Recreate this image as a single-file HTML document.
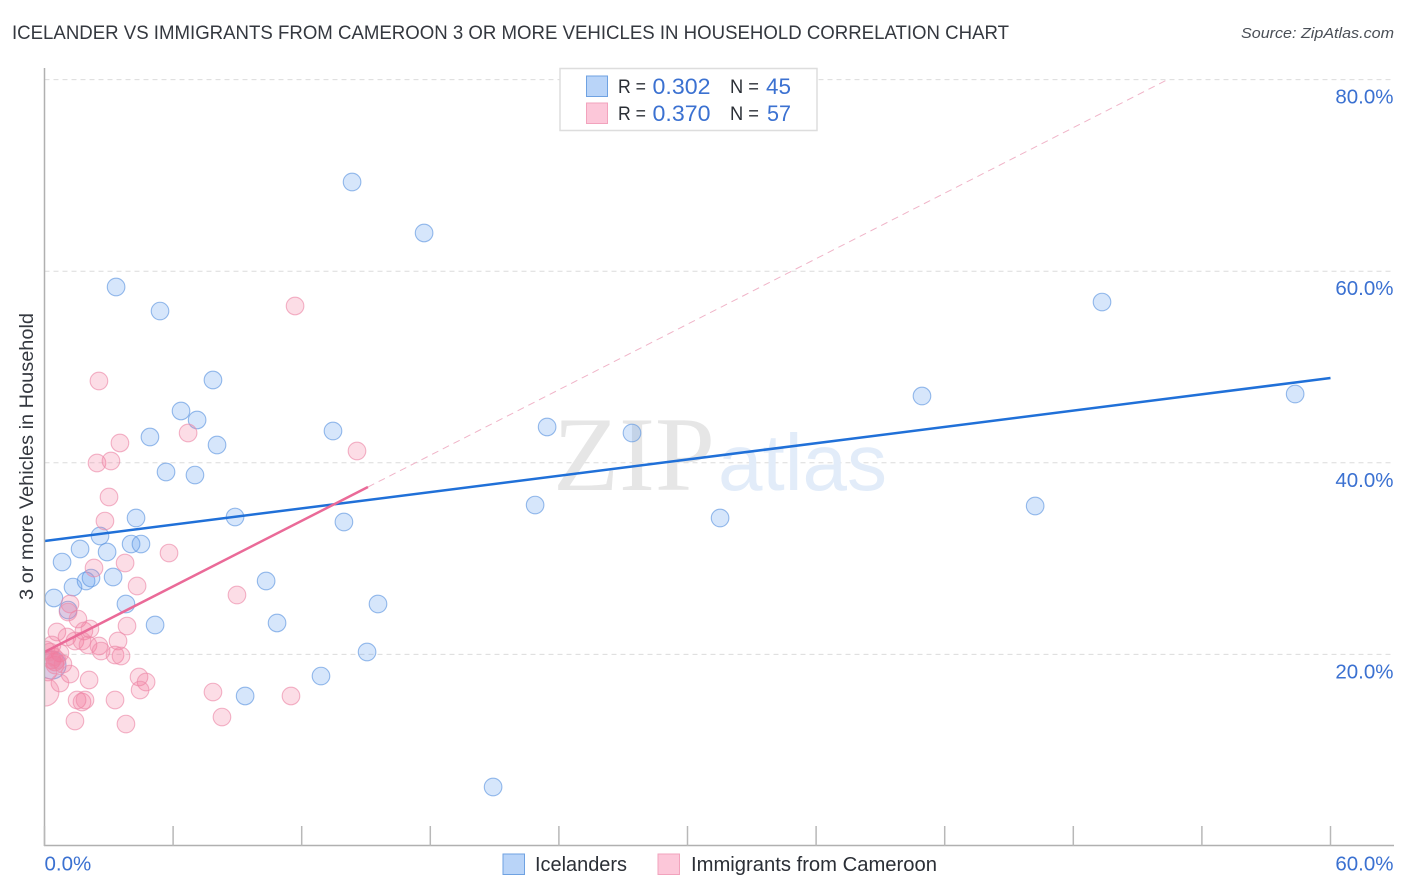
<!DOCTYPE html>
<html lang="en">
<head>
<meta charset="utf-8">
<title>Icelander vs Immigrants from Cameroon chart</title>
<style>
html,body{margin:0;padding:0;background:#fff;}
svg{display:block;font-family:"Liberation Sans",sans-serif;}
</style>
</head>
<body>
<svg id="chart" xmlns="http://www.w3.org/2000/svg" width="1406" height="892" viewBox="0 0 1406 892">
  <defs>
    <clipPath id="plot-clip"><rect x="44.5" y="60" width="1350" height="786"/></clipPath>
  </defs>
  <rect x="0" y="0" width="1406" height="892" fill="#ffffff"/>
  <text x="12" y="39" font-size="19.5" fill="#34383f" textLength="997" lengthAdjust="spacingAndGlyphs">ICELANDER VS IMMIGRANTS FROM CAMEROON 3 OR MORE VEHICLES IN HOUSEHOLD CORRELATION CHART</text>
  <text x="1241" y="38" font-size="15" font-style="italic" fill="#4a4f57" textLength="153" lengthAdjust="spacingAndGlyphs">Source: ZipAtlas.com</text>

  <g id="grid"></g>

  <g>
    <text x="553" y="490" font-family="'Liberation Serif',serif" font-size="106" fill="#e6e6e6" textLength="162" lengthAdjust="spacingAndGlyphs">ZIP</text>
    <text x="718" y="490" font-size="80" fill="#e2ecf9" textLength="169" lengthAdjust="spacingAndGlyphs">atlas</text>
  </g>

  <g id="points" clip-path="url(#plot-clip)"></g>
  <g id="trends" clip-path="url(#plot-clip)"></g>

  <g id="axes">
    <line x1="44.5" y1="68" x2="44.5" y2="846" stroke="#b0b0b0" stroke-width="1.5"/>
    <line x1="44" y1="845.5" x2="1394" y2="845.5" stroke="#b0b0b0" stroke-width="1.5"/>
  </g>

  <text transform="translate(33,456.5) rotate(-90)" text-anchor="middle" font-size="19.5" fill="#34383f" textLength="287" lengthAdjust="spacingAndGlyphs">3 or more Vehicles in Household</text>

  <g>
    <rect x="560" y="68.5" width="257" height="62" fill="#ffffff" stroke="#dddddd" stroke-width="1.5"/>
    <rect x="586.5" y="76" width="21" height="20.5" fill="#b9d4f8" stroke="#6fa2e2" stroke-width="1"/>
    <rect x="586.5" y="103" width="21" height="20.5" fill="#fcc7d9" stroke="#f2a3bd" stroke-width="1"/>
    <text x="618" y="93" font-size="19" fill="#2b2f36" textLength="28" lengthAdjust="spacingAndGlyphs">R =</text>
    <text x="652.5" y="94" font-size="22" fill="#3b71d1" textLength="58" lengthAdjust="spacingAndGlyphs">0.302</text>
    <text x="730" y="93" font-size="19" fill="#2b2f36" textLength="29" lengthAdjust="spacingAndGlyphs">N =</text>
    <text x="766" y="94" font-size="22" fill="#3b71d1" textLength="25" lengthAdjust="spacingAndGlyphs">45</text>
    <text x="618" y="120" font-size="19" fill="#2b2f36" textLength="28" lengthAdjust="spacingAndGlyphs">R =</text>
    <text x="652.5" y="121" font-size="22" fill="#3b71d1" textLength="58" lengthAdjust="spacingAndGlyphs">0.370</text>
    <text x="730" y="120" font-size="19" fill="#2b2f36" textLength="29" lengthAdjust="spacingAndGlyphs">N =</text>
    <text x="767" y="121" font-size="22" fill="#3b71d1" textLength="24" lengthAdjust="spacingAndGlyphs">57</text>
  </g>

  <g>
    <g>
      <rect x="503" y="854" width="21.5" height="20.5" fill="#b9d4f8" stroke="#6fa2e2" stroke-width="1"/>
      <text x="535" y="871" font-size="20" fill="#2b2f36" textLength="92" lengthAdjust="spacingAndGlyphs">Icelanders</text>
    </g>
    <g>
      <rect x="658" y="854" width="21.5" height="20.5" fill="#fcc7d9" stroke="#f2a3bd" stroke-width="1"/>
      <text x="691" y="871" font-size="20" fill="#2b2f36" textLength="246" lengthAdjust="spacingAndGlyphs">Immigrants from Cameroon</text>
    </g>
  </g>
</svg>
<script>
const yTickValues = [20, 40, 60, 80];
const yTickLabels = ["20.0%", "40.0%", "60.0%", "80.0%"];
const xTickValues = [0, 6, 12, 18, 24, 30, 36, 42, 48, 54, 60];
const xEndValues = [0, 60];
const xEndLabels = ["0.0%", "60.0%"];

const icelanderX = [14.35,17.71,3.34,5.39,49.34,7.86,40.94,58.35,6.37,7.12,4.92,8.05,23.45,27.41,5.67,7.02,22.89,46.22,31.52,4.27,8.89,13.46,13.97,2.59,0.82,1.66,2.92,4.04,4.50,1.33,1.94,2.17,3.20,10.34,0.44,3.80,15.56,1.10,5.16,10.85,15.05,12.90,9.36,20.93,0.35];
const icelanderY = [69.31,63.99,58.35,55.84,56.78,48.64,46.97,47.18,45.41,44.47,42.69,41.86,43.74,43.11,39.04,38.72,35.59,35.49,34.24,34.24,34.34,43.32,33.82,32.36,29.64,31.00,30.69,31.52,31.52,27.03,27.66,27.97,28.08,27.66,25.89,25.26,25.26,24.63,23.07,23.28,20.25,17.74,15.66,6.16,18.89];
const cameroonX = [11.69,2.54,6.70,3.52,14.58,2.45,3.10,3.01,2.82,5.81,3.76,2.31,4.32,8.98,1.19,1.10,1.56,3.85,1.84,2.12,0.58,1.05,1.42,1.75,2.03,2.54,2.64,3.43,3.29,3.57,0.35,0.72,0.07,0.35,0.49,0.49,0.86,0.16,1.19,2.08,0.72,4.41,4.74,4.46,1.52,1.75,1.89,3.29,7.86,11.50,8.28,1.42,3.80,0.44,0.58,0.26,0.02];
const cameroonY = [56.37,48.54,43.11,42.07,41.23,39.98,40.19,36.43,33.92,30.58,29.54,29.02,27.14,26.20,25.26,24.42,23.69,22.96,22.44,22.65,22.34,21.82,21.40,21.40,20.98,20.88,20.35,21.40,19.94,19.83,20.98,20.15,20.46,19.41,19.21,18.89,19.00,18.16,17.95,17.33,17.01,17.64,17.12,16.28,15.24,15.03,15.24,15.24,16.07,15.66,13.46,13.05,12.73,19.73,19.41,20.25,16.07];

const icelanderTrendX = [0, 60];
const icelanderTrendY = [31.84, 48.85];
const cameroonTrendX = [0, 15.09];
const cameroonTrendY = [20.25, 37.47];
const cameroonExtendX = [15.09, 52.4];
const cameroonExtendY = [37.47, 80];

const SVG_NS = "http://www.w3.org/2000/svg";
function xScale(v) { return 44.5 + v * (1286 / 60); }
function yScale(v) { return 846 - v * 9.58; }
function make(tag, attrs, parent) {
  const el = document.createElementNS(SVG_NS, tag);
  for (const k in attrs) el.setAttribute(k, attrs[k]);
  parent.appendChild(el);
  return el;
}

const grid = document.getElementById("grid");
const axes = document.getElementById("axes");
const points = document.getElementById("points");
const trends = document.getElementById("trends");

yTickValues.forEach(function (v, i) {
  const line = make("line", {x1: 44.5, x2: 1394, y1: yScale(v), y2: yScale(v), stroke: "#dcdcdc", "stroke-width": 1, "stroke-dasharray": "5 4"}, grid);
  
  
  const label = make("text", {x: 1393.5, y: yScale(v) + 24, "text-anchor": "end", "font-size": 20.5, fill: "#3b71d1"}, axes);
  label.textContent = yTickLabels[i];
  
  
});

xTickValues.forEach(function (v) {
  const tick = make("line", {x1: xScale(v), x2: xScale(v), y1: 826, y2: 846, stroke: "#b8b8b8", "stroke-width": 1.5}, axes);
  
  
});

xEndValues.forEach(function (v, i) {
  const label = make("text", {x: i === 0 ? xScale(v) : 1393.5, y: 870.5, "text-anchor": i === 0 ? "start" : "end", "font-size": 20.5, fill: "#3b71d1"}, axes);
  label.textContent = xEndLabels[i];
  
  
});

function drawPoint(x, y, big, fill, stroke) {
  const c = make("circle", {cx: xScale(x), cy: yScale(y), r: big ? 14 : 8.8, fill: fill, "fill-opacity": 0.25, stroke: stroke, "stroke-opacity": 0.65, "stroke-width": 1.1}, points);
  return c;
}

icelanderX.forEach(function (x, i) {
  const c = drawPoint(x, icelanderY[i], i === icelanderX.length - 1, "#5a9cf0", "#5f97e0");
  
  
});

cameroonX.forEach(function (x, i) {
  const c = drawPoint(x, cameroonY[i], i === cameroonX.length - 1, "#f4769c", "#ec8aa9");
  
  
});

const extendLine = make("line", {x1: xScale(cameroonExtendX[0]), y1: yScale(cameroonExtendY[0]), x2: xScale(cameroonExtendX[1]), y2: yScale(cameroonExtendY[1]), stroke: "#f0b4c8", "stroke-width": 1, "stroke-dasharray": "7 5"}, trends);



const blueLine = make("line", {x1: xScale(icelanderTrendX[0]), y1: yScale(icelanderTrendY[0]), x2: xScale(icelanderTrendX[1]), y2: yScale(icelanderTrendY[1]), stroke: "#2070d8", "stroke-width": 2.5}, trends);



const pinkLine = make("line", {x1: xScale(cameroonTrendX[0]), y1: yScale(cameroonTrendY[0]), x2: xScale(cameroonTrendX[1]), y2: yScale(cameroonTrendY[1]), stroke: "#ea6a98", "stroke-width": 2.5}, trends);


</script>
</body>
</html>
